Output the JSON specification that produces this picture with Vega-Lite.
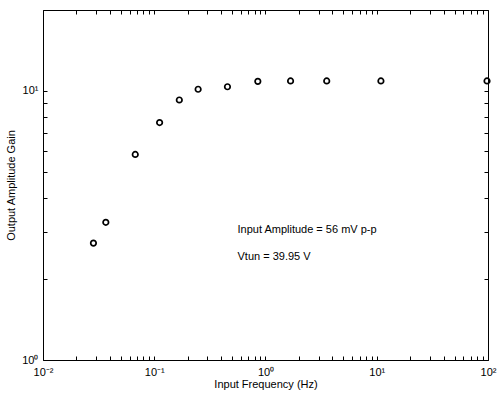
{
  "$schema": "https://vega.github.io/schema/vega-lite/v6.json",
  "autosize": "none",
  "width": 445,
  "height": 350,
  "padding": {"left": 43, "top": 10, "right": 9, "bottom": 33},
  "background": "white",
  "config": {
    "view": {"stroke": "black", "strokeWidth": 1},
    "font": "Liberation Sans",
    "axis": {
      "domainColor": "black",
      "tickColor": "black",
      "labelColor": "black",
      "titleColor": "black",
      "labelFont": "Liberation Sans",
      "titleFont": "Liberation Sans",
      "labelFontSize": 11,
      "titleFontSize": 11,
      "titleFontWeight": "normal",
      "grid": false,
      "labelOverlap": false,
      "labelFlush": false,
      "labelBound": false
    }
  },
  "datasets": {
    "pts": [
      {"freq": 0.0284, "gain": 2.72},
      {"freq": 0.0367, "gain": 3.25},
      {"freq": 0.0675, "gain": 5.81},
      {"freq": 0.1117, "gain": 7.63},
      {"freq": 0.168, "gain": 9.26},
      {"freq": 0.248, "gain": 10.15},
      {"freq": 0.455, "gain": 10.37},
      {"freq": 0.853, "gain": 10.86},
      {"freq": 1.68, "gain": 10.9},
      {"freq": 3.55, "gain": 10.9},
      {"freq": 10.9, "gain": 10.9},
      {"freq": 98, "gain": 10.9}
    ],
    "notes": [
      {"freq": 0.56, "gain": 3.03, "label": "Input Amplitude = 56 mV p-p"},
      {"freq": 0.56, "gain": 2.41, "label": "Vtun = 39.95 V"}
    ]
  },
  "layer": [
    {
      "data": {"name": "pts"},
      "mark": {"type": "point", "shape": "circle", "filled": false, "color": "black", "size": 30, "strokeWidth": 1.7, "opacity": 1},
      "encoding": {
        "x": {
          "field": "freq", "type": "quantitative",
          "scale": {"type": "log", "domain": [0.01, 100], "nice": false},
          "axis": {
            "orient": "bottom",
            "title": "Input Frequency (Hz)",
            "values": [0.01,0.02,0.03,0.04,0.05,0.06,0.07,0.08,0.09,0.1,0.2,0.3,0.4,0.5,0.6,0.7,0.8,0.9,1,2,3,4,5,6,7,8,9,10,20,30,40,50,60,70,80,90,100],
            "labelExpr": "datum.value==0.01?'10⁻²':datum.value==0.1?'10⁻¹':datum.value==1?'10⁰':datum.value==10?'10¹':datum.value==100?'10²':''",
            "tickSize": -4,
            "labelPadding": 10,
            "titlePadding": 1,
            "domain": false
          }
        },
        "y": {
          "field": "gain", "type": "quantitative",
          "scale": {"type": "log", "domain": [1, 20], "nice": false},
          "axis": {
            "orient": "left",
            "title": "Output Amplitude Gain",
            "values": [1,2,3,4,5,6,7,8,9,10,20],
            "labelExpr": "datum.value==1?'10⁰':datum.value==10?'10¹':''",
            "tickSize": -4,
            "labelPadding": 9,
            "titlePadding": 5,
            "domain": false
          }
        }
      }
    },
    {
      "data": {"name": "notes"},
      "mark": {"type": "text", "align": "left", "baseline": "middle", "fontSize": 11, "color": "black", "font": "Liberation Sans"},
      "encoding": {
        "x": {
          "field": "freq", "type": "quantitative",
          "axis": {
            "orient": "top",
            "title": null,
            "labels": false,
            "values": [0.01,0.02,0.03,0.04,0.05,0.06,0.07,0.08,0.09,0.1,0.2,0.3,0.4,0.5,0.6,0.7,0.8,0.9,1,2,3,4,5,6,7,8,9,10,20,30,40,50,60,70,80,90,100],
            "tickSize": -4,
            "domain": false
          }
        },
        "y": {
          "field": "gain", "type": "quantitative",
          "axis": {
            "orient": "right",
            "title": null,
            "labels": false,
            "values": [1,2,3,4,5,6,7,8,9,10,20],
            "tickSize": -4,
            "domain": false
          }
        },
        "text": {"field": "label"}
      }
    }
  ],
  "resolve": {"axis": {"x": "independent", "y": "independent"}}
}
